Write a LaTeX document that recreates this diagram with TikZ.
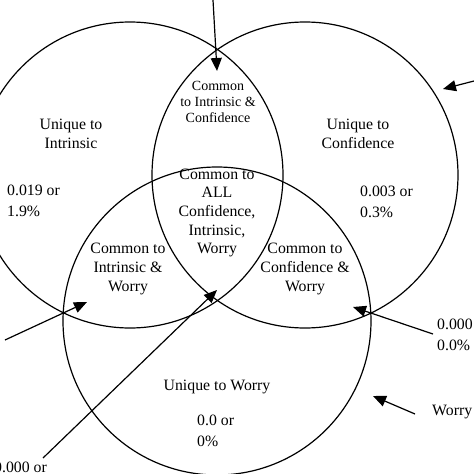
\documentclass[tikz,border=0pt]{standalone}
\usepackage{fontspec}
\setmainfont{Liberation Serif}
\usetikzlibrary{arrows.meta}
\tikzset{
  ring/.style={line width=1.2pt},
  pointer/.style={line width=1.2pt, -{Triangle[length=13pt,width=11pt]}},
  label/.style={align=center, inner sep=0pt, font=\fontsize{15.8}{18.7}\selectfont},
  smalllabel/.style={align=center, inner sep=0pt, font=\fontsize{14}{16}\selectfont},
  value/.style={align=left, anchor=west, inner sep=0pt, font=\fontsize{15.8}{20.5}\selectfont}
}
\begin{document}
\begin{tikzpicture}[x=1pt, y=-1pt]
  \useasboundingbox (0,0) rectangle (474,474);
  \clip (0,0) rectangle (474,474);

  % the three sets
  \draw [ring] (130,175) circle (153);
  \draw [ring] (305,175) circle (153);
  \draw [ring] (217,321) circle (154);

  % regions:
  \node [smalllabel] (intConf) at (218,102) {Common\\to Intrinsic \&\\Confidence};
  \node [label] (uniqInt) at (71,134) {Unique to\\Intrinsic};
  \node [value] (valInt) at (7,201) {0.019 or\\1.9\%};
  \node [label] (uniqConf) at (358,134) {Unique to\\Confidence};
  \node [value] (valConf) at (360,202) {0.003 or\\0.3\%};
  \node [label] (allThree) at (217,213) {Common to\\ALL\\Confidence,\\Intrinsic,\\Worry};
  \node [label] (intWorry) at (128,269) {Common to\\Intrinsic \&\\Worry};
  \node [label] (confWorry) at (305,269) {Common to\\Confidence \&\\Worry};
  \node [label] (uniqWorry) at (217,387) {Unique to Worry};
  \node [value] (valWorry) at (197,431) {0.0 or\\0\%};

  % outside values:
  \node [value] (valCW) at (437,335) {0.000 or\\0.0\%};
  \node [value] (worryTag) at (432,412) {Worry};
  \node [value] (valIW) at (-6,467) {0.000 or};

  % arrow ends
  \coordinate (topTail) at (213,0);
  \coordinate (topTip) at (217,71);
  \coordinate (rightTail) at (474,81);
  \coordinate (rightTip) at (443,89);
  \coordinate (leftTail) at (5,340);
  \coordinate (leftTip) at (87,302);
  \coordinate (midTail) at (43,458);
  \coordinate (midTip) at (217,290);
  \coordinate (cwTail) at (433,334);
  \coordinate (cwTip) at (353,307);
  \coordinate (worryTail) at (415,414);
  \coordinate (worryTip) at (373,396);

  \draw [pointer] (topTail) -- (topTip);
  \draw [pointer] (rightTail) -- (rightTip);
  \draw [pointer] (leftTail) -- (leftTip);
  \draw [pointer] (midTail) -- (midTip);
  \draw [pointer] (cwTail) -- (cwTip);
  \draw [pointer] (worryTail) -- (worryTip);
\end{tikzpicture}
\end{document}
